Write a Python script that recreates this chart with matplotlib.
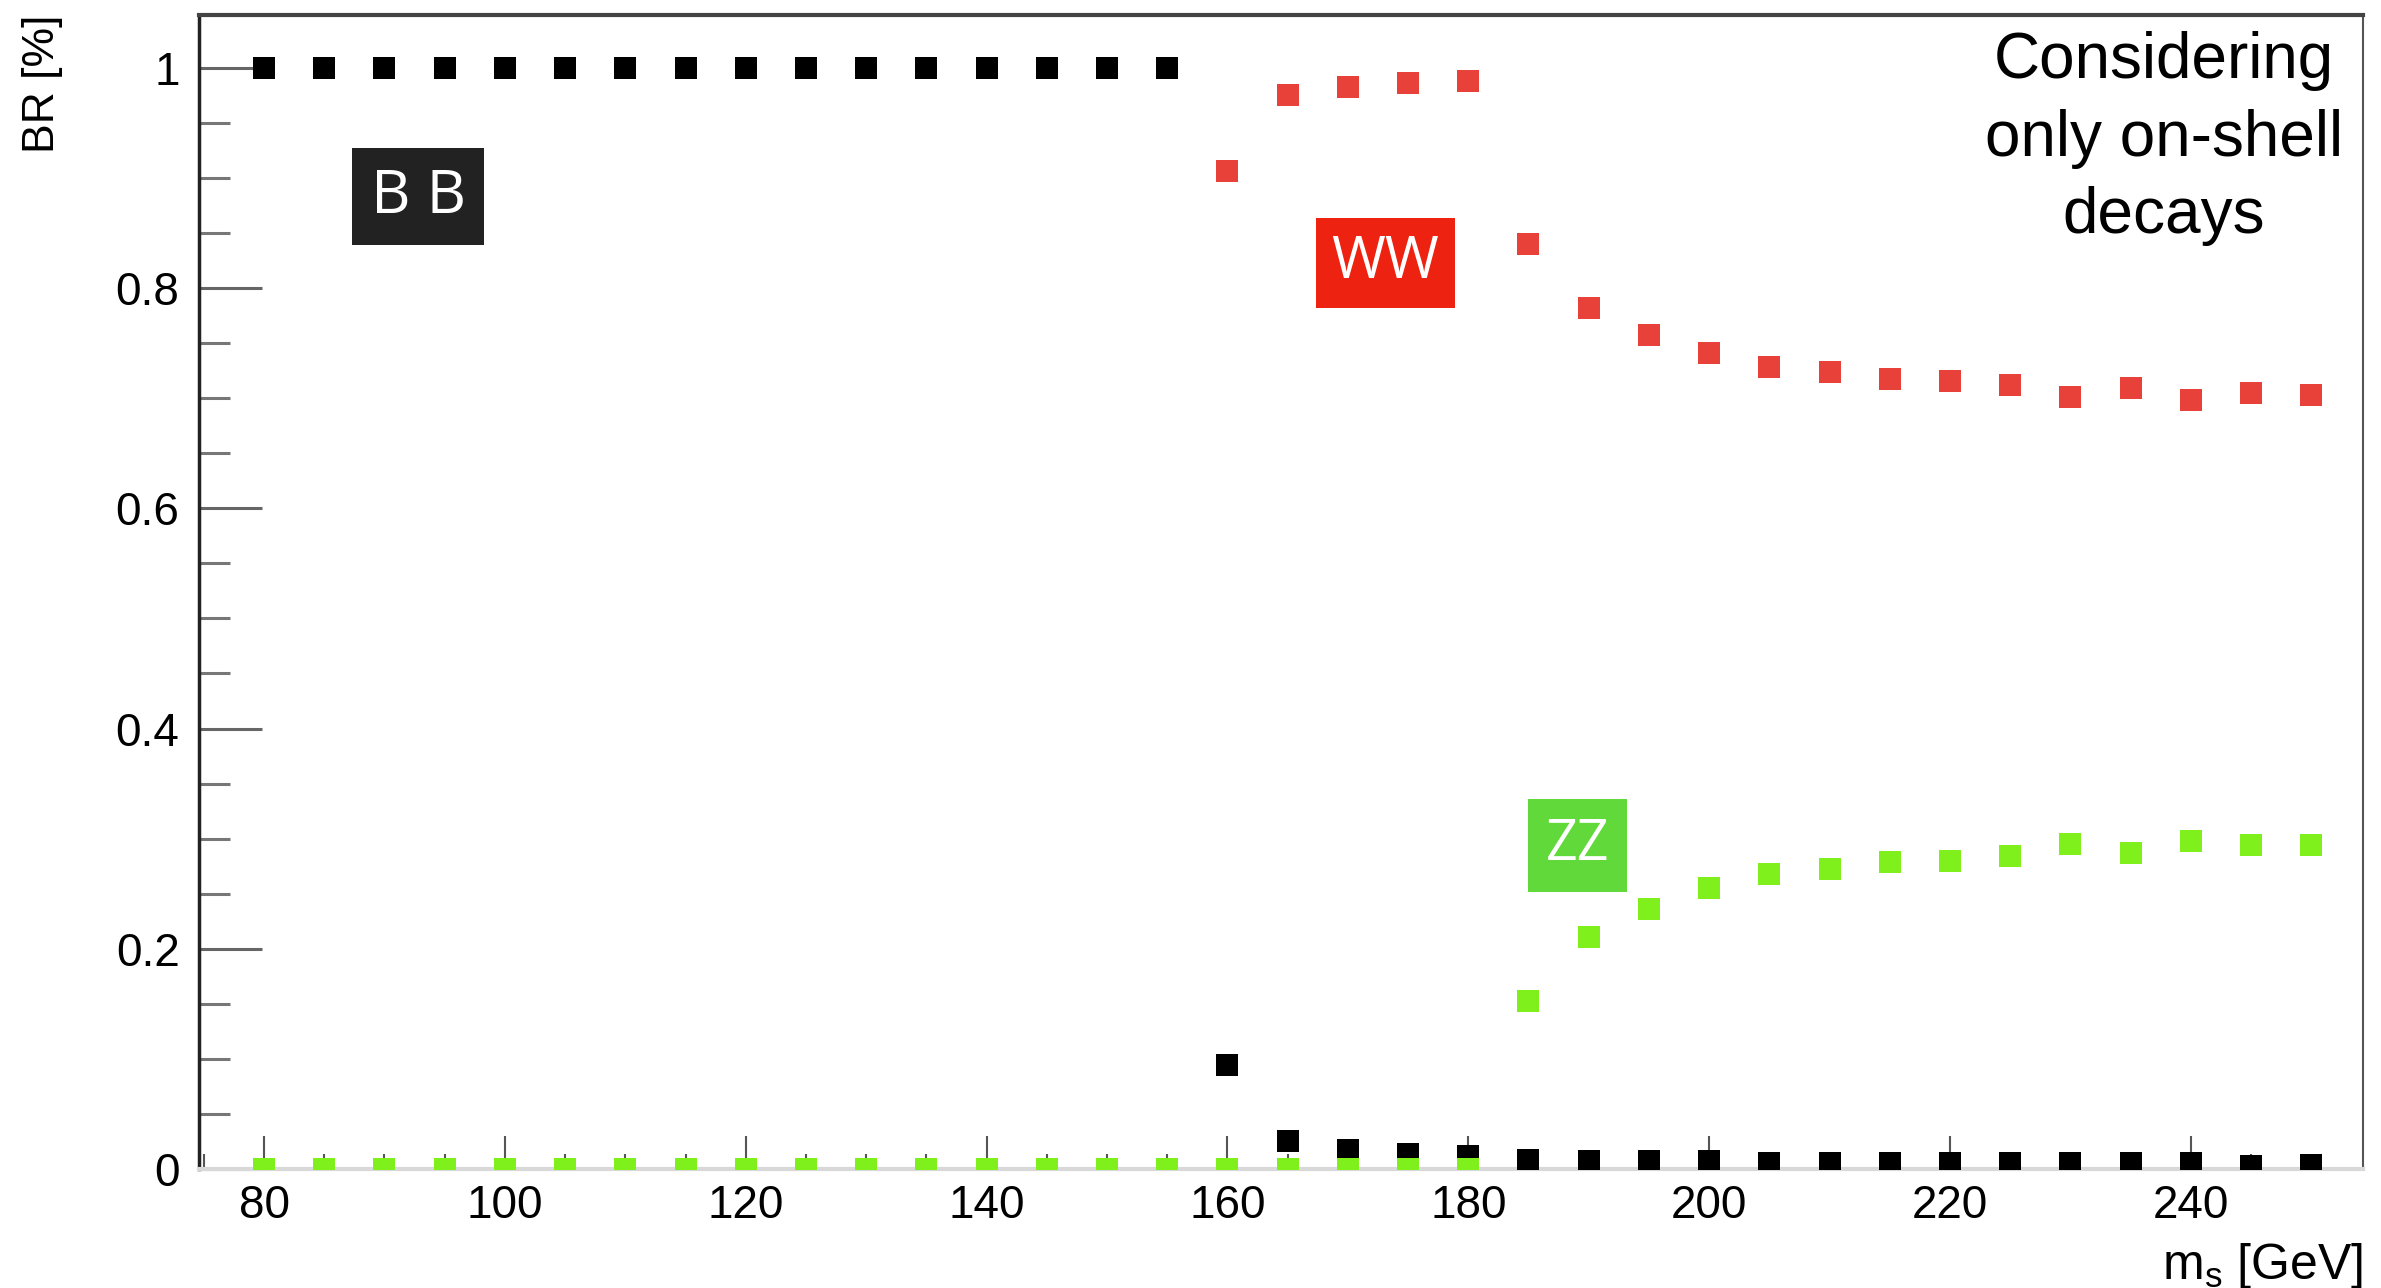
import matplotlib
matplotlib.use("Agg")
import matplotlib.pyplot as plt
from matplotlib.ticker import MultipleLocator, FixedLocator, FixedFormatter

plt.rcParams['font.family'] = ['Liberation Sans', 'DejaVu Sans']
plt.rcParams['mathtext.fontset'] = 'custom'
plt.rcParams['mathtext.rm'] = 'Liberation Sans'
plt.rcParams['mathtext.it'] = 'Liberation Sans'

# scalar mass points [GeV]
mass = [80, 85, 90, 95, 100, 105, 110, 115, 120, 125, 130, 135, 140, 145, 150, 155,
        160, 165, 170, 175, 180, 185, 190, 195, 200, 205, 210, 215, 220, 225, 230,
        235, 240, 245, 250]

# branching ratios
br_bb = [1.0] * 16 + [0.094, 0.025, 0.017, 0.014, 0.012, 0.008, 0.007, 0.007, 0.007,
                      0.005, 0.005, 0.005, 0.005, 0.005, 0.005, 0.005, 0.005, 0.003, 0.004]
br_ww = [0.0] * 16 + [0.906, 0.975, 0.983, 0.986, 0.988, 0.840, 0.782, 0.757, 0.741,
                      0.728, 0.724, 0.717, 0.716, 0.712, 0.701, 0.709, 0.698, 0.705, 0.703]
br_zz = [0.0] * 21 + [0.153, 0.211, 0.236, 0.255, 0.268, 0.272, 0.279, 0.280, 0.284,
                      0.295, 0.287, 0.298, 0.294, 0.294]

ytick_vals = [0, 0.2, 0.4, 0.6, 0.8, 1.0]
ytick_labels = ['0', '0.2', '0.4', '0.6', '0.8', '1']

fig = plt.figure(figsize=(23.81, 12.88), dpi=100)
ax = fig.add_axes([199 / 2381, 1 - 1169 / 1288, (2363 - 199) / 2381, (1169 - 15) / 1288])

ms = 15.5
ax.plot(mass, br_bb, ls='none', marker='s', ms=ms, mew=0, color='#000000', zorder=3)
ax.plot(mass, br_ww, ls='none', marker='s', ms=ms, mew=0, color='#e8413a', zorder=4)
ax.plot(mass, br_zz, ls='none', marker='s', ms=ms, mew=0, color='#80f01c', zorder=5)

ax.set_xlim(74.6, 254.3)
ax.set_ylim(0, 1.048)

# frame
ax.spines['left'].set_linewidth(2.5)
ax.spines['left'].set_color('#222222')
ax.spines['top'].set_linewidth(3)
ax.spines['top'].set_color('#444444')
ax.spines['right'].set_linewidth(1.5)
ax.spines['right'].set_color('#555555')
ax.spines['bottom'].set_linewidth(3)
ax.spines['bottom'].set_color('#d8d8d8')
ax.axhline(0, xmin=(157 - 74.6) / (254.3 - 74.6), xmax=1, color='#555555', lw=2.5, zorder=2)

# ticks
ax.xaxis.set_major_locator(MultipleLocator(20))
ax.xaxis.set_minor_locator(MultipleLocator(5))
ax.yaxis.set_major_locator(FixedLocator(ytick_vals))
ax.yaxis.set_major_formatter(FixedFormatter(ytick_labels))
ax.yaxis.set_minor_locator(MultipleLocator(0.05))
ax.tick_params(axis='x', which='major', direction='in', length=24, width=1.5,
               color='#555555', labelsize=33, pad=11)
ax.tick_params(axis='x', which='minor', direction='in', length=11, width=1.5,
               color='#555555')
ax.tick_params(axis='y', which='major', direction='in', length=45, width=2.2,
               color='#666666', labelsize=33, pad=14)
ax.tick_params(axis='y', which='minor', direction='in', length=22, width=2.2,
               color='#777777')

ax.set_ylabel('BR [%]', fontsize=32, loc='top')
ax.yaxis.set_label_coords(-0.063, 1.0)
ax.set_xlabel(r'm$_{\mathrm{s}}$ [GeV]', fontsize=36, loc='right')
ax.xaxis.set_label_coords(1.0, -0.062)

# channel labels
box_font = ['Open Sans', 'DejaVu Sans']
ax.text(92.8, 0.883, 'B B', fontsize=44, color='white', ha='center', va='center',
        family=box_font, bbox=dict(boxstyle='square,pad=0.3', fc='#222222', ec='none'))
ax.text(173.1, 0.823, 'WW', fontsize=42, color='white', ha='center', va='center',
        family=box_font, bbox=dict(boxstyle='square,pad=0.27', fc='#ee2211', ec='none'))
ax.text(189.1, 0.294, 'ZZ', fontsize=40, color='white', ha='center', va='center',
        family=box_font, bbox=dict(boxstyle='square,pad=0.32', fc='#62d93a', ec='none'))

ax.text(0.908, 0.986, 'Considering\nonly on-shell\ndecays', transform=ax.transAxes,
        fontsize=46, ha='center', va='top', linespacing=1.37)

fig.savefig('out.png', dpi=100)
